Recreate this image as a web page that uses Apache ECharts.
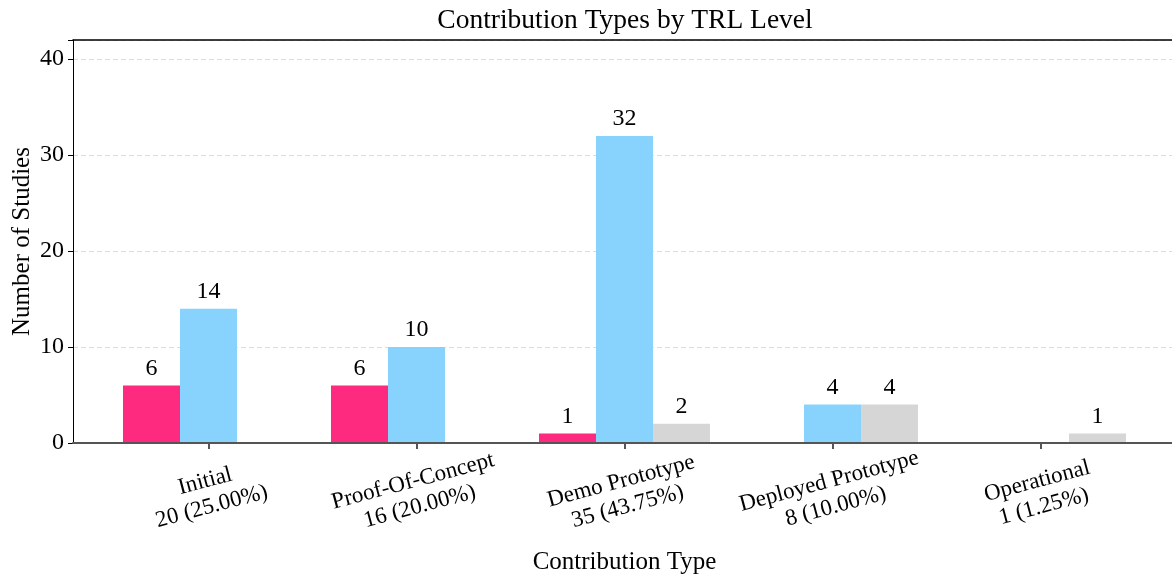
<!DOCTYPE html>
<html>
<head>
<meta charset="utf-8">
<title>Contribution Types by TRL Level</title>
<script src="https://cdn.jsdelivr.net/npm/echarts@6/dist/echarts.min.js"></script>
<style>
    html, body {
        margin: 0;
        padding: 0;
        background: #fff;
    }

    #chart {
        width: 1172px;
        height: 579px;
    }
</style>
</head>
<body>
<div id="chart"></div>
<script>
// categories and their totals (tick labels)
const categories = ['Initial', 'Proof-Of-Concept', 'Demo Prototype', 'Deployed Prototype', 'Operational'];
const totalLabels = ['20 (25.00%)', '16 (20.00%)', '35 (43.75%)', '8 (10.00%)', '1 (1.25%)'];

// bar values, one array per series
const pinkValues = [6, 6, 1, 0, 0];
const blueValues = [14, 10, 32, 4, 0];
const grayValues = [0, 0, 2, 4, 1];

const yTicks = [0, 10, 20, 30, 40];

const FONT = 'Liberation Serif';

const myChart = echarts.init(document.getElementById('chart'));

function barSeries(name, values, color) {
    return {
        name: name,
        type: 'bar',
        xAxisIndex: 2,
        yAxisIndex: 1,
        data: values,
        barWidth: 57,
        barGap: '0%',
        itemStyle: { color: color },
        label: {
            show: true,
            position: 'top',
            distance: 5,
            fontFamily: FONT,
            fontSize: 24,
            color: '#000',
            // zero bars get no label
            formatter: p => (p.value ? String(p.value) : '')
        },
        z: 3
    };
}

myChart.setOption({
    animation: false,
    title: {
        text: 'Contribution Types by TRL Level',
        left: 620,
        textAlign: 'center',
        top: 2,
        textStyle: {
            fontFamily: FONT,
            fontSize: 27.5,
            fontWeight: 'normal',
            color: '#000'
        }
    },
    grid: [
        // outer frame with y axis and gridlines
        { left: 73, right: 0, top: 40, bottom: 136, outerBoundsMode: 'none' },
        // inner grid for the bars
        { left: 104.5, width: 1040, top: 40, bottom: 136, outerBoundsMode: 'none' }
    ],
    xAxis: [
        {
            gridIndex: 0,
            type: 'value',
            min: 0,
            max: 1,
            z: 5,
            axisLine: { show: true, lineStyle: { color: '#555', width: 2 } },
            axisTick: { show: false },
            axisLabel: { show: false },
            splitLine: { show: false }
        },
        {
            gridIndex: 0,
            type: 'value',
            position: 'top',
            min: 0,
            max: 1,
            axisLine: { show: true, lineStyle: { color: '#000', width: 1.5 } },
            axisTick: { show: false },
            axisLabel: { show: false },
            splitLine: { show: false }
        },
        {
            gridIndex: 1,
            type: 'category',
            data: categories,
            axisLine: { show: false },
            axisTick: {
                show: true,
                alignWithLabel: true,
                length: 6,
                lineStyle: { color: '#555', width: 2 }
            },
            axisLabel: {
                interval: 0,
                rotate: 15,
                align: 'center',
                verticalAlign: 'top',
                margin: 24,
                padding: [0, 14, 0, 0],
                fontFamily: FONT,
                fontSize: 23,
                lineHeight: 26,
                color: '#000',
                formatter: (v, i) => v + '\n' + totalLabels[i]
            },
            name: 'Contribution Type',
            nameLocation: 'middle',
            nameGap: 107,
            nameMoveOverlap: false,
            nameTextStyle: { fontFamily: FONT, fontSize: 25, color: '#000' }
        }
    ],
    yAxis: [
        {
            gridIndex: 0,
            type: 'value',
            min: 0,
            max: 42,
            interval: 10,
            axisLine: { show: true, lineStyle: { color: '#000', width: 1 } },
            axisTick: { show: true, length: 5, lineStyle: { color: '#000' } },
            axisLabel: {
                margin: 9,
                fontFamily: FONT,
                fontSize: 24,
                color: '#000',
                formatter: v => (yTicks.indexOf(v) >= 0 ? String(v) : '')
            },
            splitLine: {
                show: true,
                lineStyle: { color: '#dcdcdc', type: [5, 3], width: 1 }
            },
            name: 'Number of Studies',
            nameLocation: 'middle',
            nameGap: 38,
            nameMoveOverlap: false,
            nameTextStyle: { fontFamily: FONT, fontSize: 25, color: '#000' }
        },
        {
            gridIndex: 1,
            type: 'value',
            min: 0,
            max: 42,
            show: false
        }
    ],
    series: [
        barSeries('Pink', pinkValues, '#fe2a7f'),
        barSeries('Blue', blueValues, '#87d3fd'),
        barSeries('Gray', grayValues, '#d6d6d6')
    ]
});
</script>
</body>
</html>
